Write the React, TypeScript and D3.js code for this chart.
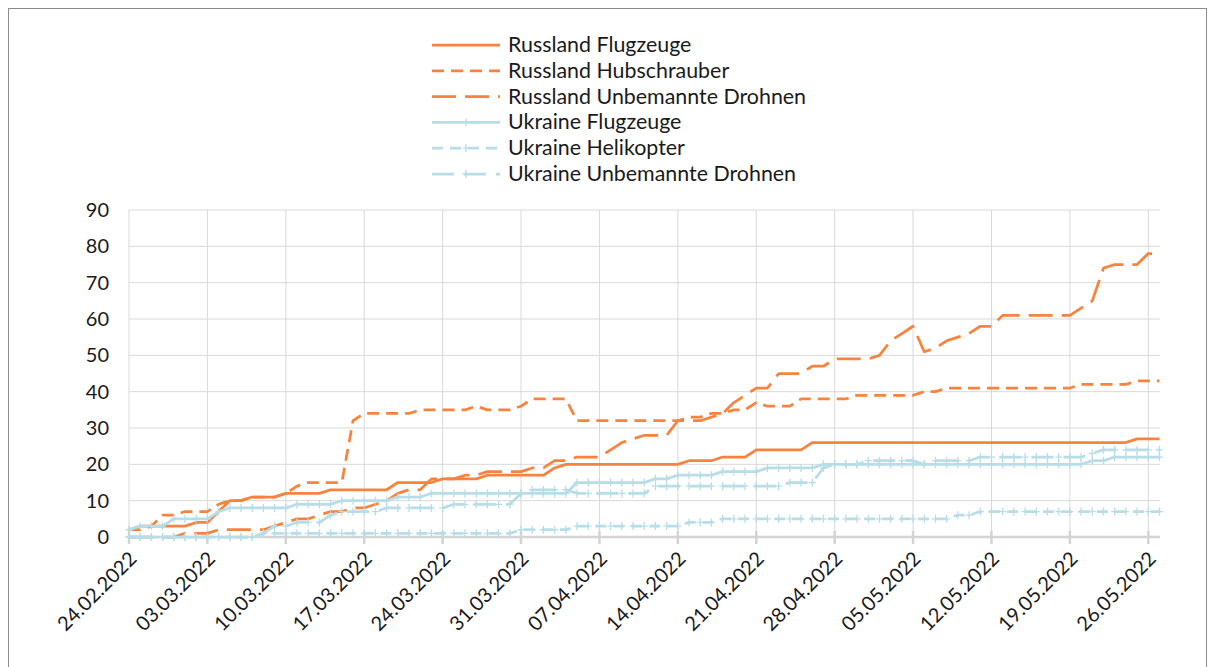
import React from "react";
import * as d3 from "d3";

// Daily categories: 24.02.2022 .. 27.05.2022 (93 days)
const START_DATE = new Date(Date.UTC(2022, 1, 24));
const END_DATE_EXCL = new Date(Date.UTC(2022, 4, 28));
const dates: Date[] = d3.utcDay.range(START_DATE, END_DATE_EXCL);

const yTicks = [0, 10, 20, 30, 40, 50, 60, 70, 80, 90];

// one row per week (7 days)
const russlandFlugzeuge = [
  2, 3, 3, 3, 3, 3, 4,
  4, 7, 10, 10, 11, 11, 11,
  12, 12, 12, 12, 13, 13, 13,
  13, 13, 13, 15, 15, 15, 15,
  16, 16, 16, 16, 17, 17, 17,
  17, 17, 17, 19, 20, 20, 20,
  20, 20, 20, 20, 20, 20, 20,
  20, 21, 21, 21, 22, 22, 22,
  24, 24, 24, 24, 24, 26, 26,
  26, 26, 26, 26, 26, 26, 26,
  26, 26, 26, 26, 26, 26, 26,
  26, 26, 26, 26, 26, 26, 26,
  26, 26, 26, 26, 26, 26, 27,
  27, 27,
];
const russlandHubschrauber = [
  2, 2, 3, 6, 6, 7, 7,
  7, 9, 10, 10, 11, 11, 11,
  12, 14, 15, 15, 15, 15, 32,
  34, 34, 34, 34, 34, 35, 35,
  35, 35, 35, 36, 35, 35, 35,
  36, 38, 38, 38, 38, 32, 32,
  32, 32, 32, 32, 32, 32, 32,
  32, 33, 33, 34, 34, 35, 35,
  37, 36, 36, 36, 38, 38, 38,
  38, 38, 39, 39, 39, 39, 39,
  39, 40, 40, 41, 41, 41, 41,
  41, 41, 41, 41, 41, 41, 41,
  41, 42, 42, 42, 42, 42, 43,
  43, 43,
];
const russlandDrohnen = [
  0, 0, 0, 0, 0, 1, 1,
  1, 2, 2, 2, 2, 2, 3,
  4, 5, 5, 6, 7, 7, 8,
  8, 9, 10, 12, 13, 13, 16,
  16, 16, 17, 17, 18, 18, 18,
  18, 19, 19, 21, 21, 22, 22,
  22, 24, 26, 27, 28, 28, 28,
  32, 32, 32, 33, 34, 37, 39,
  41, 41, 45, 45, 45, 47, 47,
  49, 49, 49, 49, 50, 54, 56,
  58, 51, 52, 54, 55, 56, 58,
  58, 61, 61, 61, 61, 61, 61,
  61, 63, 65, 74, 75, 75, 75,
  78, 78,
];
const ukraineFlugzeuge = [
  2, 3, 3, 3, 5, 5, 5,
  5, 7, 8, 8, 8, 8, 8,
  8, 9, 9, 9, 9, 10, 10,
  10, 10, 10, 11, 11, 11, 12,
  12, 12, 12, 12, 12, 12, 12,
  12, 12, 12, 12, 12, 15, 15,
  15, 15, 15, 15, 15, 16, 16,
  17, 17, 17, 17, 18, 18, 18,
  18, 19, 19, 19, 19, 19, 20,
  20, 20, 20, 20, 20, 20, 20,
  20, 20, 20, 20, 20, 20, 20,
  20, 20, 20, 20, 20, 20, 20,
  20, 20, 21, 21, 22, 22, 22,
  22, 22,
];
const ukraineHelikopter = [
  0, 0, 0, 0, 0, 0, 0,
  0, 0, 0, 0, 0, 1, 1,
  1, 1, 1, 1, 1, 1, 1,
  1, 1, 1, 1, 1, 1, 1,
  1, 1, 1, 1, 1, 1, 1,
  2, 2, 2, 2, 2, 3, 3,
  3, 3, 3, 3, 3, 3, 3,
  3, 4, 4, 4, 5, 5, 5,
  5, 5, 5, 5, 5, 5, 5,
  5, 5, 5, 5, 5, 5, 5,
  5, 5, 5, 5, 6, 6, 7,
  7, 7, 7, 7, 7, 7, 7,
  7, 7, 7, 7, 7, 7, 7,
  7, 7,
];
const ukraineDrohnen = [
  0, 0, 0, 0, 0, 0, 0,
  0, 0, 0, 0, 0, 1, 3,
  3, 4, 4, 4, 6, 7, 7,
  7, 7, 8, 8, 8, 8, 8,
  8, 9, 9, 9, 9, 9, 9,
  12, 13, 13, 13, 13, 12, 12,
  12, 12, 12, 12, 12, 14, 14,
  14, 14, 14, 14, 14, 14, 14,
  14, 14, 14, 15, 15, 15, 19,
  20, 20, 20, 21, 21, 21, 21,
  21, 20, 21, 21, 21, 21, 22,
  22, 22, 22, 22, 22, 22, 22,
  22, 22, 23, 24, 24, 24, 24,
  24, 24,
];

const seriesNames = [
  "Russland Flugzeuge",
  "Russland Hubschrauber",
  "Russland Unbemannte Drohnen",
  "Ukraine Flugzeuge",
  "Ukraine Helikopter",
  "Ukraine Unbemannte Drohnen",
];

const ORANGE = "#F7833E";
const BLUE = "#B7DEE8";

const series = [
  { name: seriesNames[0], values: russlandFlugzeuge, color: ORANGE, dash: "", marker: false },
  { name: seriesNames[1], values: russlandHubschrauber, color: ORANGE, dash: "12 7", marker: false },
  { name: seriesNames[2], values: russlandDrohnen, color: ORANGE, dash: "24 9", marker: false },
  { name: seriesNames[3], values: ukraineFlugzeuge, color: BLUE, dash: "", marker: true },
  { name: seriesNames[4], values: ukraineHelikopter, color: BLUE, dash: "11 7", marker: true },
  { name: seriesNames[5], values: ukraineDrohnen, color: BLUE, dash: "22 10", marker: true },
];

const W = 1199;
const H = 659;
const OX = 8; // svg placed at page (8,8); internal coords are page coords minus 8
const OY = 8;
const FONT = "Lato, 'Open Sans', sans-serif";

export default function App() {
  const x = d3
    .scaleUtc()
    .domain([dates[0], dates[dates.length - 1]])
    .range([129 - OX, 1159.5 - OX]);
  const y = d3.scaleLinear().domain([0, 90]).range([537 - OY, 210 - OY]);
  const plotRight = 1160 - OX;
  const tickDates = dates.filter((_, i) => i % 7 === 0);
  const fmt = d3.utcFormat("%d.%m.%Y");

  const line = d3
    .line<number>()
    .x((_, i) => x(dates[i]))
    .y((v) => y(v));

  const legendX1 = 432 - OX;
  const legendX2 = 500 - OX;
  const legendTextX = 508 - OX;
  const legendY0 = 45 - OY;
  const legendStep = 25.8;

  const plus = (cx: number, cy: number, color: string, key: string) => (
    <path
      key={key}
      d={`M${cx - 3.5},${cy}H${cx + 3.5}M${cx},${cy - 4}V${cy + 4}`}
      stroke={color}
      strokeWidth={1.3}
      fill="none"
    />
  );

  return (
    <svg
      width={W}
      height={H}
      style={{ position: "fixed", left: OX, top: OY, display: "block", background: "#fff" }}
      fontFamily={FONT}
    >
      <rect x={0.5} y={0.5} width={W - 1} height={H + 40} fill="#fff" stroke="#8c8c8c" strokeWidth={1} />

      {/* horizontal gridlines */}
      {yTicks.map((t) => (
        <line
          key={"h" + t}
          x1={x(dates[0])}
          x2={plotRight}
          y1={y(t)}
          y2={y(t)}
          stroke="#d9d9d9"
          strokeWidth={t === 0 ? 0 : 1}
        />
      ))}
      {/* vertical gridlines */}
      {tickDates.map((d, i) => (
        <line
          key={"v" + i}
          x1={x(d)}
          x2={x(d)}
          y1={y(90)}
          y2={y(0)}
          stroke="#d9d9d9"
          strokeWidth={1}
        />
      ))}
      {/* x axis */}
      <line x1={x(dates[0])} x2={plotRight} y1={y(0)} y2={y(0)} stroke="#d4d4d4" strokeWidth={2.5} />
      {tickDates.map((d, i) => (
        <line
          key={"t" + i}
          x1={x(d)}
          x2={x(d)}
          y1={y(0) - 6}
          y2={y(0) + 7}
          stroke="#d4d4d4"
          strokeWidth={2.5}
        />
      ))}

      {/* y labels */}
      {yTicks.map((t) => (
        <text key={"yl" + t} x={109 - OX} y={y(t) + 7} textAnchor="end" fontSize={20} fill="#1a1a1a">
          {t}
        </text>
      ))}
      {/* x labels */}
      {tickDates.map((d, i) => (
        <text
          key={"xl" + i}
          transform={`translate(${x(d) + 9},${y(0) + 23}) rotate(-45)`}
          textAnchor="end"
          fontSize={20}
          fill="#1a1a1a"
        >
          {fmt(d)}
        </text>
      ))}

      {/* series */}
      {series.map((s, si) => (
        <g key={"s" + si}>
          <path
            d={line(s.values) || ""}
            fill="none"
            stroke={s.color}
            strokeWidth={2.75}
            strokeDasharray={s.dash || undefined}
            strokeLinejoin="round"
          />
          {s.marker && s.values.map((v, i) => plus(x(dates[i]), y(v), s.color, `m${si}-${i}`))}
        </g>
      ))}

      {/* legend */}
      {series.map((s, si) => {
        const ly = legendY0 + si * legendStep;
        return (
          <g key={"lg" + si}>
            <line
              x1={legendX1}
              x2={legendX2}
              y1={ly}
              y2={ly}
              stroke={s.color}
              strokeWidth={2.75}
              strokeDasharray={s.dash || undefined}
            />
            {s.marker && plus((legendX1 + legendX2) / 2, ly, s.color, "lm" + si)}
            <text x={legendTextX} y={ly + 7} fontSize={21.4} fill="#1a1a1a">
              {s.name}
            </text>
          </g>
        );
      })}
    </svg>
  );
}
